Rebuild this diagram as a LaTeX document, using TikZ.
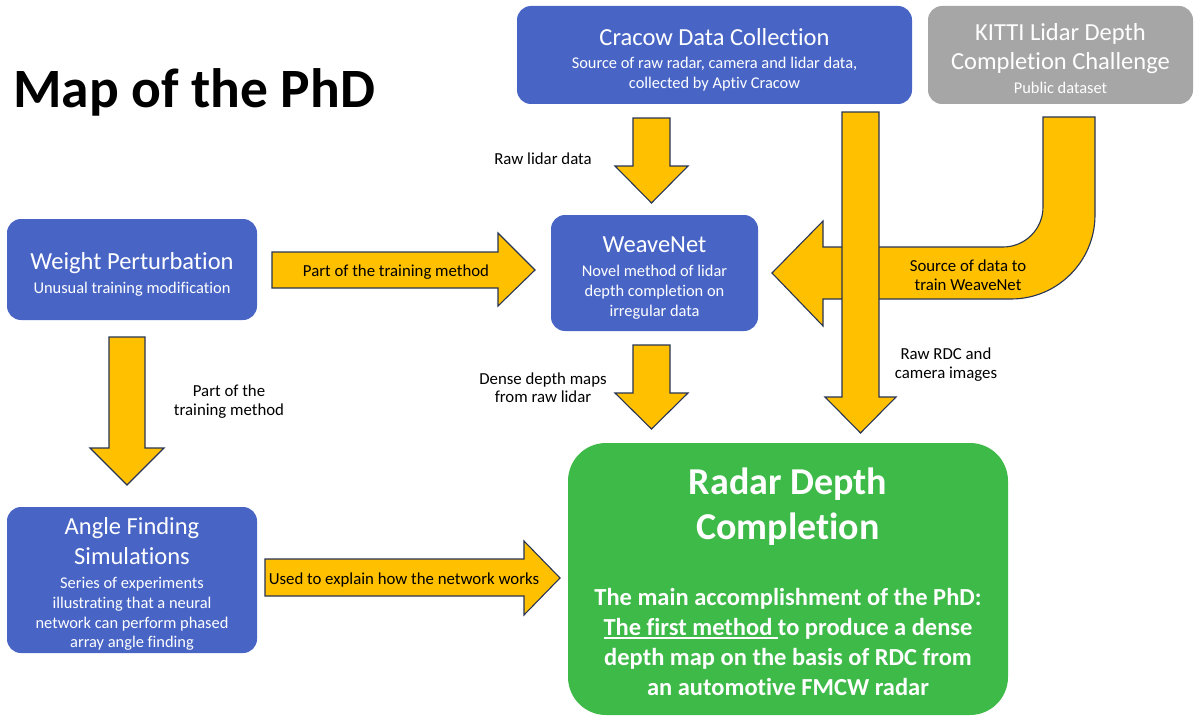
\documentclass[tikz,border=0pt]{standalone}
\usepackage{fontspec}
\setmainfont{Carlito}[Ligatures={NoCommon,NoRare}]
\definecolor{boxblue}{RGB}{72,101,198}
\definecolor{boxgray}{RGB}{166,166,166}
\definecolor{boxgreen}{RGB}{61,186,72}
\definecolor{arrowyellow}{RGB}{255,192,0}
\definecolor{arrowline}{RGB}{40,52,84}
\newcommand\myunderline[1]{\setbox0\hbox{#1}\rlap{\rule[-3.6pt]{\wd0}{1.7pt}}\box0}
\begin{document}
\begin{tikzpicture}[x=1pt,y=-1pt,
  box/.style={rounded corners=14pt, draw=none, inner sep=0pt, outer sep=0pt},
  ttl/.style={anchor=mid, yshift=-5pt, text=white, inner sep=0pt, font=\fontsize{24.5}{28}\selectfont},
  sub/.style={anchor=mid, yshift=-4pt, text=white, inner sep=0pt, font=\fontsize{16.4}{20}\selectfont},
  lbl/.style={anchor=mid, yshift=-3.5pt, text=black, inner sep=0pt, font=\fontsize{16.8}{20}\selectfont},
  body/.style={anchor=mid, yshift=-5pt, text=white, inner sep=0pt, font=\fontsize{24.5}{28}\selectfont\bfseries},
  bigttl/.style={anchor=mid, yshift=-7.5pt, text=white, inner sep=0pt, font=\fontsize{38}{42}\selectfont\bfseries},
  blockarrow/.style={fill=arrowyellow, draw=arrowline, line width=1.1pt, line join=miter}]
\useasboundingbox (0,0) rectangle (1195,717);

% title
\node[anchor=base west, inner sep=0pt, font=\fontsize{55.5}{60}\selectfont\bfseries] (title) at (13,107) {Map of the PhD};

% boxes
\node[box, fill=boxblue, minimum width=395pt, minimum height=98pt] (cracow) at (714.5,55) {};
\node[box, fill=boxgray, minimum width=265pt, minimum height=98pt] (kitti) at (1060.5,55) {};
\node[box, fill=boxblue, minimum width=250pt, minimum height=101pt] (wp) at (132,269.5) {};
\node[box, fill=boxblue, minimum width=207pt, minimum height=116pt] (weave) at (654.5,273) {};
\node[box, fill=boxblue, minimum width=250pt, minimum height=146pt] (angle) at (132,580) {};
\node[box, fill=boxgreen, rounded corners=38pt, minimum width=440pt, minimum height=272pt] (rdc) at (788,579) {};

% box texts
\node[ttl] (cracowT) at (714.5,38) {Cracow Data Collection};
\node[sub] (cracowS1) at (714.5,62) {Source of raw radar, camera and lidar data,};
\node[sub] (cracowS2) at (714.5,82) {collected by Aptiv Cracow};

\node[ttl] (kittiT1) at (1060.5,33) {KITTI Lidar Depth};
\node[ttl] (kittiT2) at (1060.5,62) {Completion Challenge};
\node[sub] (kittiS) at (1060.5,87) {Public dataset};

\node[ttl] (wpT) at (132,262) {Weight Perturbation};
\node[sub] (wpS) at (132,287) {Unusual training modification};

\node[ttl] (weaveT) at (654.5,245) {WeaveNet};
\node[sub] (weaveS1) at (654.5,270) {Novel method of lidar};
\node[sub] (weaveS2) at (654.5,290) {depth completion on};
\node[sub] (weaveS3) at (654.5,310) {irregular data};

\node[ttl] (angleT1) at (132,527) {Angle Finding};
\node[ttl] (angleT2) at (132,557) {Simulations};
\node[sub] (angleS1) at (132,582) {Series of experiments};
\node[sub] (angleS2) at (132,602) {illustrating that a neural};
\node[sub] (angleS3) at (132,622) {network can perform phased};
\node[sub] (angleS4) at (132,641) {array angle finding};

\node[bigttl] (rdcT1) at (788,485) {Radar Depth};
\node[bigttl] (rdcT2) at (788,530) {Completion};
\node[body] (rdcB1) at (788,598) {The main accomplishment of the PhD:};
\node[body] (rdcB2) at (788,628) {\myunderline{The first method\ }to produce a dense};
\node[body] (rdcB3) at (788,658) {depth map on the basis of RDC from};
\node[body] (rdcB4) at (788,688) {an automotive FMCW radar};

% block arrows
% KITTI -> WeaveNet (bent)
\draw[blockarrow] (772,273) -- (823,221) -- (823,247) -- (1003,247)
  .. controls (1025.1,247) and (1043,229.1) .. (1043,207)
  -- (1043,117) -- (1095,117) -- (1095,215)
  .. controls (1095,261.4) and (1057.4,299) .. (1011,299)
  -- (823,299) -- (823,326) -- cycle;
% Cracow -> WeaveNet
\draw[blockarrow] (633,118) -- (670,118) -- (670,166) -- (688,166) -- (651.5,203) -- (615,166) -- (633,166) -- cycle;
% WeaveNet -> RDC
\draw[blockarrow] (633,345) -- (670,345) -- (670,393) -- (688,393) -- (651.5,429) -- (615,393) -- (633,393) -- cycle;
% Cracow -> RDC (long)
\draw[blockarrow] (842,112) -- (879,112) -- (879,397) -- (896,397) -- (860.5,433) -- (825,397) -- (842,397) -- cycle;
% WP -> Angle
\draw[blockarrow] (109,337) -- (145,337) -- (145,448) -- (164,448) -- (127,485) -- (90,448) -- (109,448) -- cycle;
% WP -> WeaveNet
\draw[blockarrow] (272,252) -- (498,252) -- (498,233) -- (535,270) -- (498,306) -- (498,288) -- (272,288) -- cycle;
% Angle -> RDC
\draw[blockarrow] (265,559) -- (524,559) -- (524,541) -- (560,578) -- (524,615) -- (524,596) -- (265,596) -- cycle;

% arrow labels
\node[lbl] (l1) at (543,159) {Raw lidar data};
\node[lbl] (l2a) at (543,379) {Dense depth maps};
\node[lbl] (l2b) at (543,397) {from raw lidar};
\node[lbl] (l3a) at (946,354) {Raw RDC and};
\node[lbl] (l3b) at (946,373) {camera images};
\node[lbl] (l4a) at (968,266) {Source of data to};
\node[lbl] (l4b) at (968,285) {train WeaveNet};
\node[lbl] (l5a) at (229,391) {Part of the};
\node[lbl] (l5b) at (229,410) {training method};
\node[lbl] (l6) at (396,271) {Part of the training method};
\node[lbl] (l7) at (404,579) {Used to explain how the network works};
\end{tikzpicture}
\end{document}
